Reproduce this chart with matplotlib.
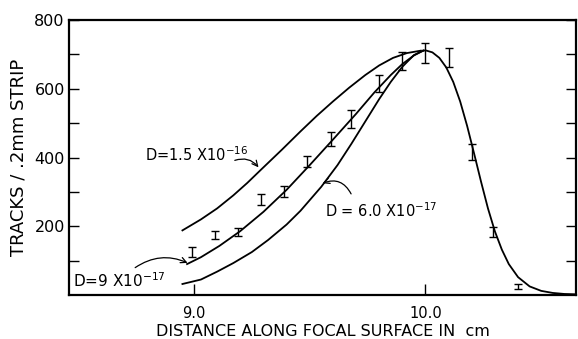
import matplotlib
matplotlib.use("Agg")
import matplotlib.pyplot as plt

# curve D = 1.5e-16
xa = [8.95, 9.03, 9.10, 9.17, 9.23, 9.29, 9.38, 9.46, 9.53, 9.60, 9.67, 9.74, 9.80, 9.86, 9.92, 9.98]
ya = [188, 220, 252, 290, 326, 365, 423, 476, 521, 563, 603, 640, 668, 690, 704, 711]

# curve D = 9e-17
xb = [8.97, 9.03, 9.11, 9.20, 9.30, 9.40, 9.50, 9.60, 9.70, 9.78, 9.85, 9.90, 9.95, 9.99]
yb = [90, 110, 143, 186, 242, 306, 378, 452, 527, 590, 640, 672, 697, 711]

# curve D = 6.0e-17
xc = [8.95, 9.03, 9.10, 9.17, 9.25, 9.32, 9.40, 9.46, 9.55, 9.62, 9.68, 9.74, 9.80, 9.85, 9.90, 9.95, 9.99]
yc = [32, 45, 68, 93, 125, 160, 205, 245, 315, 378, 440, 505, 570, 620, 664, 698, 711]

# common falling edge
xd = [9.99, 10.00, 10.03, 10.06, 10.09, 10.12, 10.15, 10.18, 10.21, 10.24, 10.27, 10.30,
      10.33, 10.36, 10.40, 10.45, 10.50, 10.55, 10.60, 10.65]
yd = [711, 712, 706, 690, 662, 620, 563, 492, 412, 330, 252, 185,
      132, 90, 52, 25, 12, 6, 3, 2]

# measured points
px = [8.99, 9.09, 9.19, 9.29, 9.39, 9.49, 9.59, 9.68, 9.80, 9.90, 10.00, 10.10, 10.20, 10.29, 10.40]
py = [125, 174, 183, 278, 302, 389, 455, 513, 616, 681, 704, 691, 416, 183, 25]
perr = [14, 11, 12, 17, 16, 16, 20, 26, 25, 26, 29, 28, 22, 15, 8]

fig = plt.figure(figsize=(5.78, 3.39), dpi=100)
ax = fig.add_axes([0.1194, 0.1298, 0.877, 0.811])

for x, y in [(xa, ya), (xb, yb), (xc, yc), (xd, yd)]:
    ax.plot(x, y, color="black", lw=1.3)

ax.errorbar(px, py, yerr=perr, fmt="none", ecolor="black", elinewidth=1.0,
            capsize=3, capthick=1.0)

ax.set_xlim(8.46, 10.65)
ax.set_ylim(0, 800)

ax.set_xticks([9.0, 10.0])
ax.set_xticklabels(["9.0", "10.0"])
ax.set_yticks([200, 400, 600, 800])
ax.set_yticks([100, 300, 500, 700], minor=True)
ax.tick_params(axis="y", which="both", direction="in", length=7, width=1,
               left=True, right=True, labelsize=11.5, pad=3)
ax.tick_params(axis="x", direction="in", length=8, width=1, labelsize=10.5, pad=8)
for s in ax.spines.values():
    s.set_linewidth(1.6)

ax.set_xlabel("DISTANCE ALONG FOCAL SURFACE IN  cm", fontsize=11.5, va="center")
ax.xaxis.set_label_coords(0.5, -0.131)
ax.set_ylabel("TRACKS / .2mm STRIP", fontsize=13)
ax.yaxis.set_label_coords(-0.081, 0.5)

arrow = dict(arrowstyle="->,head_length=0.4,head_width=0.2", color="black", lw=0.9)
ax.text(8.788, 389, "D=1.5 X10$^{-16}$", fontsize=10.5)
ax.annotate("", xy=(9.286, 365), xytext=(9.165, 389),
            arrowprops=dict(connectionstyle="arc3,rad=-0.4", **arrow))
ax.text(8.476, 23, "D=9 X10$^{-17}$", fontsize=11)
ax.annotate("", xy=(8.983, 90), xytext=(8.736, 75),
            arrowprops=dict(connectionstyle="arc3,rad=-0.3", **arrow))
ax.text(9.567, 226, "D = 6.0 X10$^{-17}$", fontsize=10.5)
ax.annotate("", xy=(9.545, 322), xytext=(9.684, 287),
            arrowprops=dict(connectionstyle="arc3,rad=0.5", **arrow))

fig.savefig("out.png", dpi=100)
